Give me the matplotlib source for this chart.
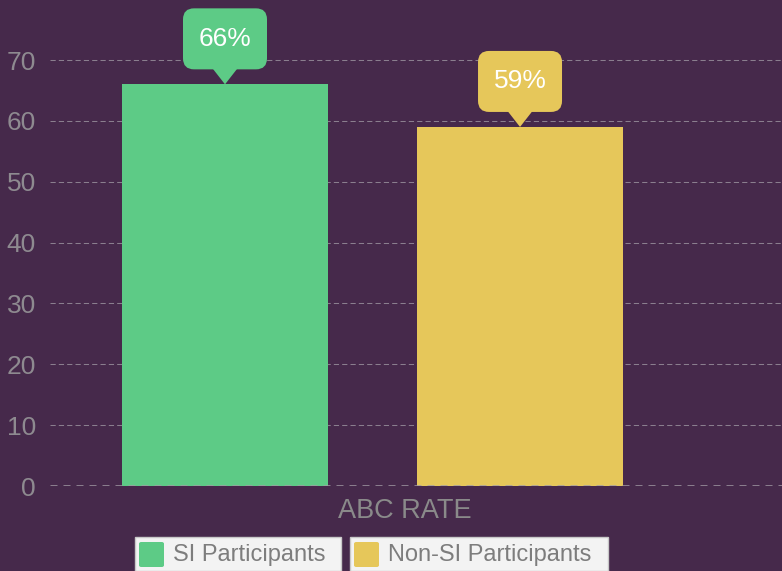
import matplotlib
matplotlib.use("Agg")
from matplotlib import pyplot as plt
from matplotlib import transforms as mtransforms
from matplotlib.patches import FancyBboxPatch, Polygon, Rectangle

plt.rcParams['font.family'] = ['Liberation Sans', 'DejaVu Sans']

# data
series = ["SI Participants", "Non-SI Participants"]
values = [66, 59]
category = "ABC RATE"
yticks = [0, 10, 20, 30, 40, 50, 60, 70]

BG = '#46294b'
colors = ['#5dcb86', '#e6c75a']
GRAY = '#8e8a90'

fig = plt.figure(figsize=(7.82, 5.71), dpi=100, facecolor=BG)
ax = fig.add_axes([50 / 782, 85 / 571, 732 / 782, 486 / 571])
ax.set_facecolor(BG)

width = 0.349
offsets = [-0.25, 0.25]
bars = ax.bar(offsets, values, width=width, color=colors, zorder=3)

ax.set_xlim(-0.5466, 0.694)
ax.set_ylim(0, 79.86)
ax.set_yticks(yticks)
ax.set_xticks([])
for s in ax.spines.values():
    s.set_visible(False)
ax.tick_params(axis='y', length=0, pad=10, labelsize=19, labelcolor=GRAY)

# dashed gridlines
for t in yticks[1:]:
    ax.axhline(t, color='#8a7e8e', lw=0.75, ls=(0, (5, 3)), zorder=1)
ax.axhline(0, color='#a19aa4', lw=1.8, ls=(0, (2.8, 2.4)), zorder=4)

# category label
fig.text(405 / 782, 1 - 511 / 571, category, ha='center', va='center',
         fontsize=19.5, color='#8a8a8a')

# callouts above bars
for x, v, c in zip(offsets, values, colors):
    tr = fig.dpi_scale_trans + mtransforms.ScaledTranslation(x, v, ax.transData)
    box = FancyBboxPatch((-0.42, 0.15), 0.84, 0.61,
                         boxstyle="round,pad=0,rounding_size=0.11",
                         fc=c, ec='none', transform=tr, clip_on=False, zorder=5)
    tri = Polygon([(-0.125, 0.16), (0.125, 0.16), (0, 0.0)], closed=True,
                  fc=c, ec='none', transform=tr, clip_on=False, zorder=5)
    ax.add_patch(box)
    ax.add_patch(tri)
    ax.text(0, 0.455, f"{v}%", transform=tr, ha='center', va='center',
            color='white', fontsize=19, zorder=6)

# legend drawn as two separate boxes
legend_boxes = [(135, 341), (350, 608)]
for (x0, x1), name, c in zip(legend_boxes, series, colors):
    fig.patches.append(Rectangle((x0 / 782, 0), (x1 - x0) / 782, 34 / 571,
                                 transform=fig.transFigure, fc='#f3f3f3',
                                 ec='#c8c8c8', lw=1))
    fig.patches.append(FancyBboxPatch(((x0 + 4) / 782, 4 / 571), 25 / 782, 25 / 571,
                                      boxstyle="round,pad=0,rounding_size=0.003",
                                      transform=fig.transFigure, fc=c, ec='none'))
    fig.text((x0 + 38) / 782, 16.5 / 571, name, ha='left', va='center',
             fontsize=17, color='#7d7d7d')

fig.savefig("out.png", dpi=100, facecolor=BG)
